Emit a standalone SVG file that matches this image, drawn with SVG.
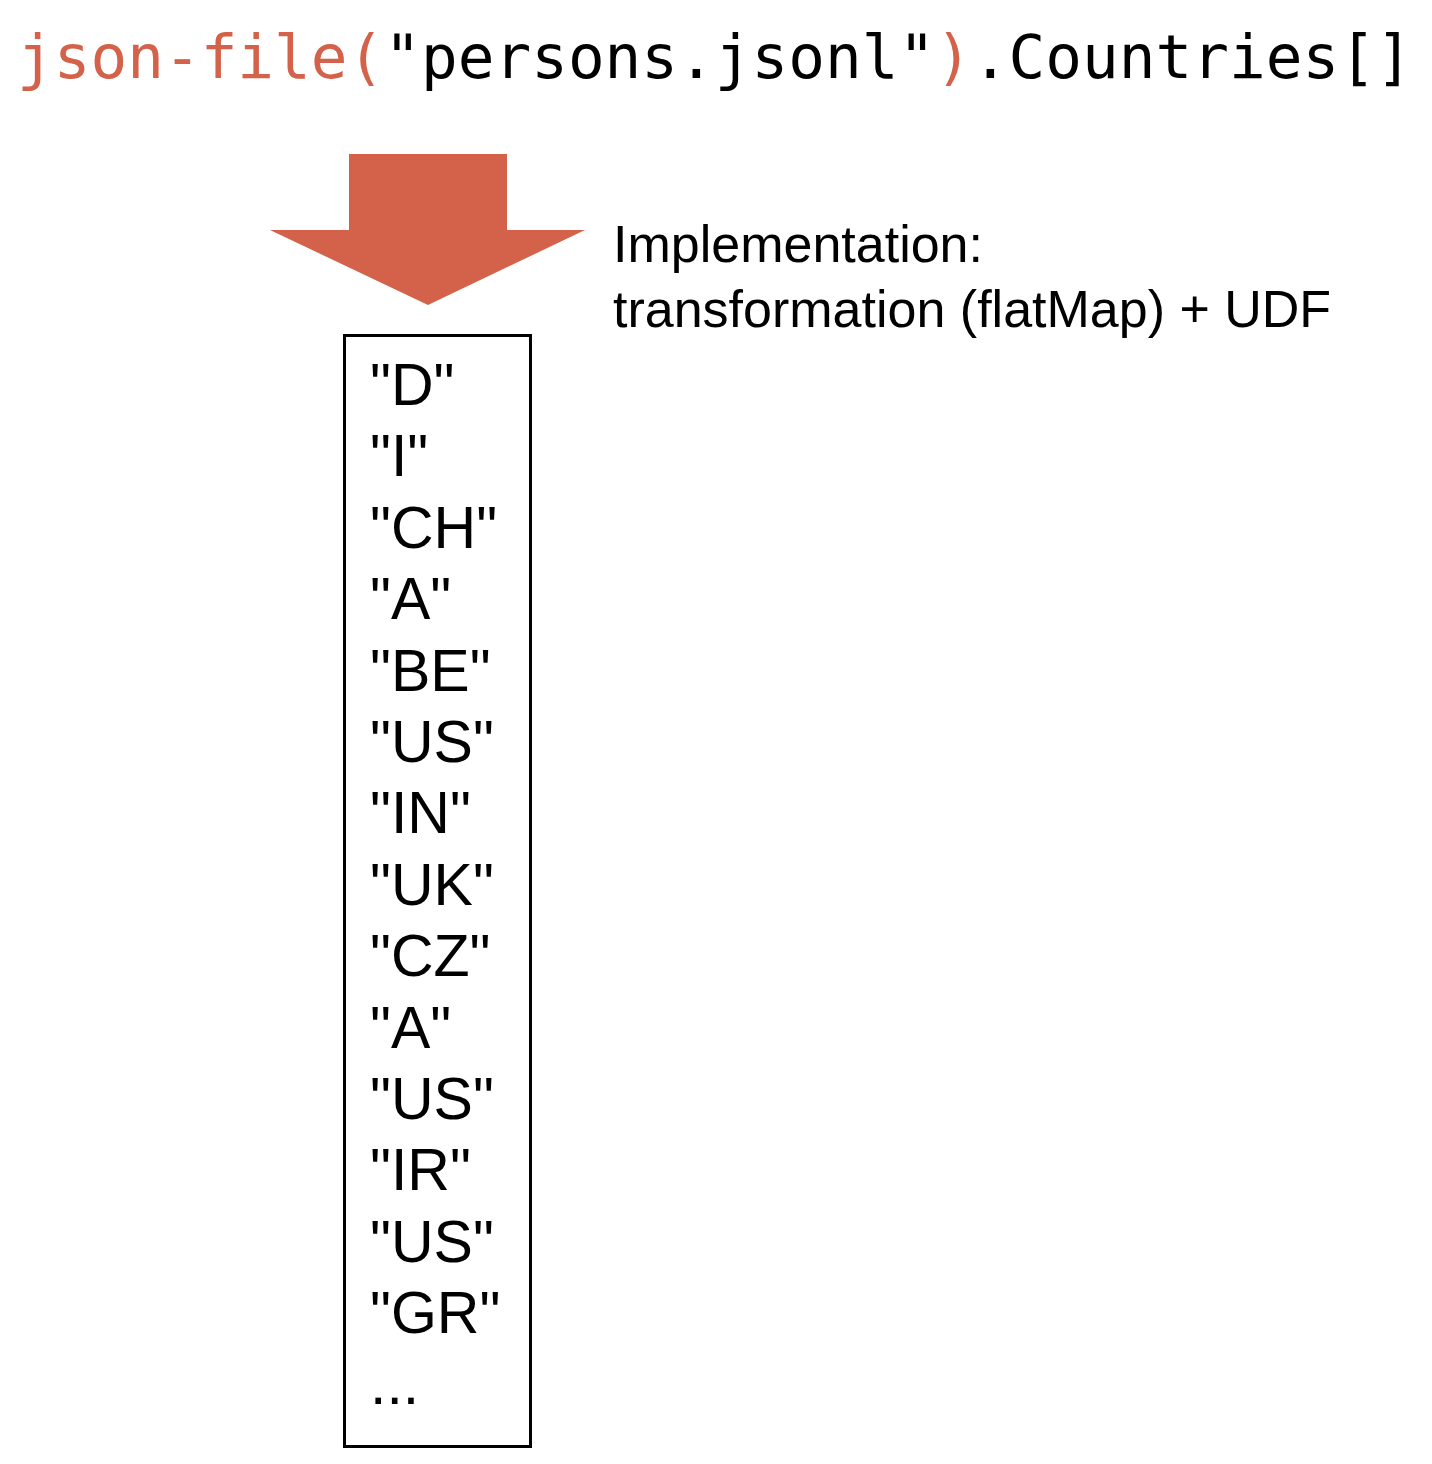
<svg xmlns="http://www.w3.org/2000/svg" width="1432" height="1464" viewBox="0 0 1432 1464">
<style>
.title{font-family:"DejaVu Sans Mono","Liberation Mono",monospace;font-size:61px;fill:#000}
.acc{fill:#D4624A}
.item{font-family:"Liberation Sans",Arial,sans-serif;font-size:59px;fill:#000}
.note{font-family:"Liberation Sans",Arial,sans-serif;font-size:52px;fill:#000}
</style>
<rect width="1432" height="1464" fill="#fff"/>
<g id="title">
<text class="title" x="17" y="78"><tspan class="acc">json-file(</tspan>"persons.jsonl"<tspan class="acc">)</tspan>.Countries[]</text>
</g>
<g id="arrow">
<polygon points="349,154 507,154 507,230 585,230 428,305 270,230 349,230" fill="#D4624A"/>
</g>
<g id="note">
<text class="note" x="613" y="262">Implementation:</text>
<text class="note" x="613" y="327">transformation (flatMap) + UDF</text>
</g>
<g id="list">
<rect x="344.5" y="335.5" width="186" height="1111" fill="none" stroke="#000" stroke-width="3"/>
<text class="item" x="370" y="405">"D"</text>
<text class="item" x="370" y="476">"I"</text>
<text class="item" x="370" y="548">"CH"</text>
<text class="item" x="370" y="619">"A"</text>
<text class="item" x="370" y="691">"BE"</text>
<text class="item" x="370" y="762">"US"</text>
<text class="item" x="370" y="833">"IN"</text>
<text class="item" x="370" y="905">"UK"</text>
<text class="item" x="370" y="976">"CZ"</text>
<text class="item" x="370" y="1048">"A"</text>
<text class="item" x="370" y="1119">"US"</text>
<text class="item" x="370" y="1190">"IR"</text>
<text class="item" x="370" y="1262">"US"</text>
<text class="item" x="370" y="1333">"GR"</text>
<text class="item" x="370" y="1404">...</text>
</g>
</svg>
